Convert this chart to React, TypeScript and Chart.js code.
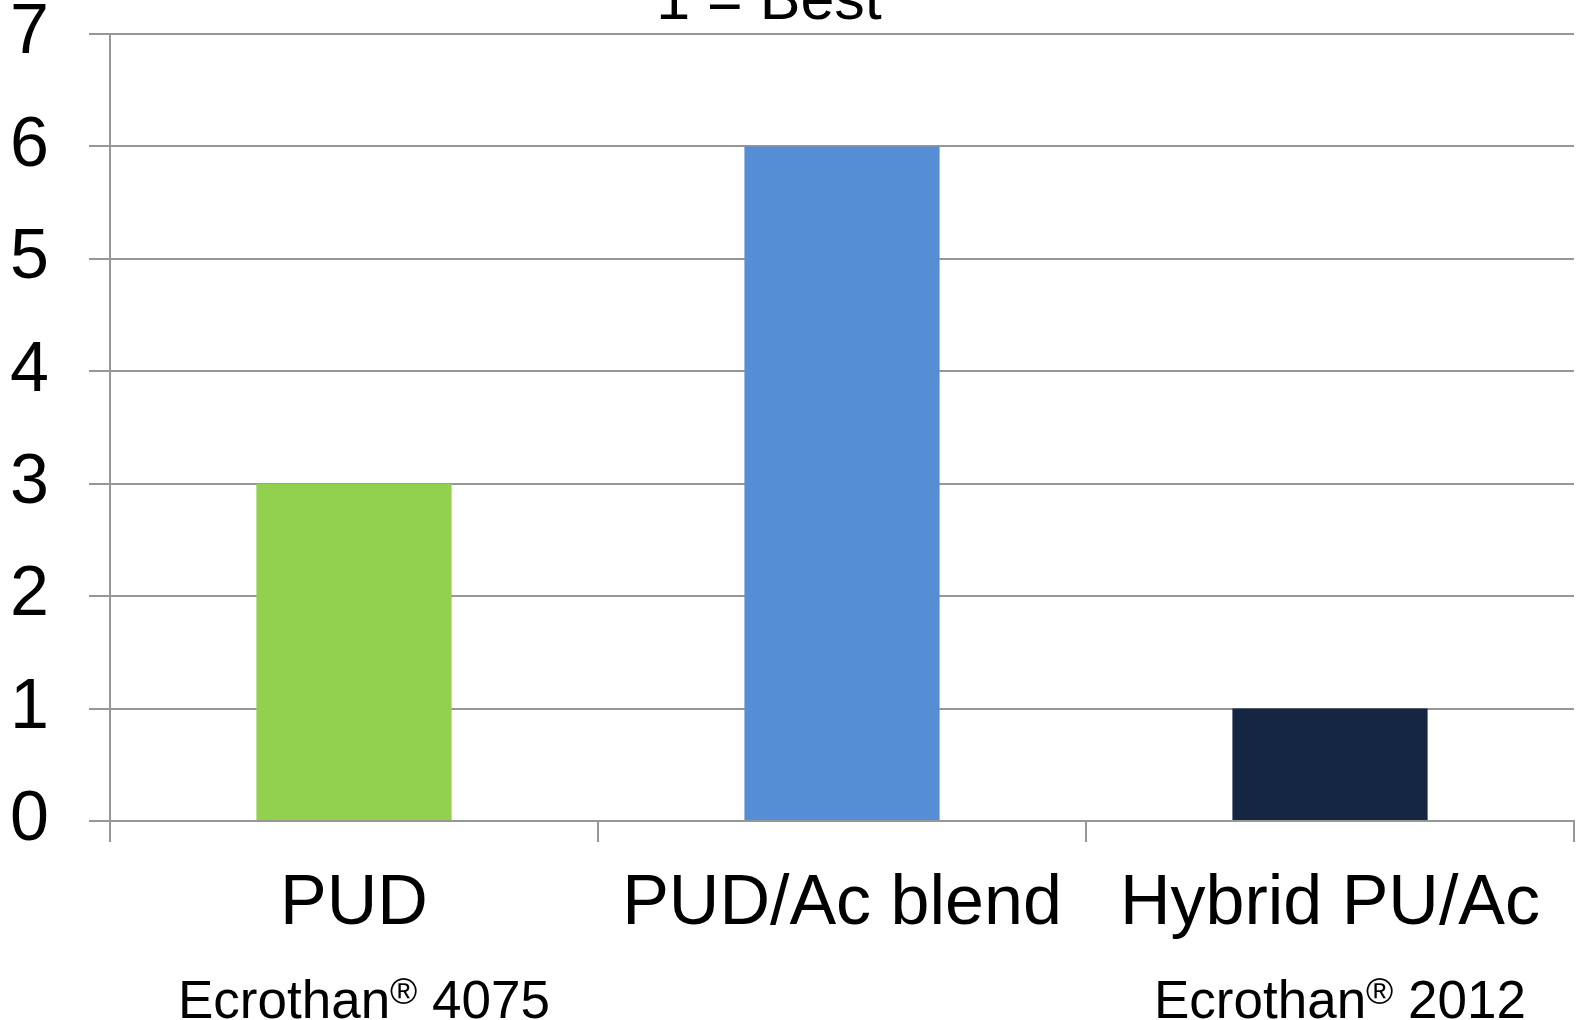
import React, { useEffect, useRef } from "react";
import { Chart, registerables } from "chart.js";

Chart.register(...registerables);

const categories = ["PUD", "PUD/Ac blend", "Hybrid PU/Ac"];
const values = [3, 6, 1];
const barColors = ["#92D050", "#558ED5", "#142641"];
const subLabels = ["Ecrothan® 4075", "", "Ecrothan® 2012"];
const titleText = "1 = Best";
const yMin = 0;
const yMax = 7;
const yStep = 1;

const FONT = "'Liberation Sans', Arial, sans-serif";
const GRID = "#979797";

const overlayPlugin = {
  id: "overlayText",
  afterDraw(chart: any) {
    const ctx = chart.ctx;
    const xs = chart.scales.x;
    ctx.save();
    ctx.fillStyle = "#000";
    // title (cut off at top as in reference)
    ctx.font = `61px ${FONT}`;
    ctx.textAlign = "center";
    ctx.textBaseline = "alphabetic";
    ctx.fillText(titleText, 769, 19);
    // sub labels with superscript ®
    subLabels.forEach((s, i) => {
      if (!s) return;
      const idx = s.indexOf("®");
      const a = idx >= 0 ? s.slice(0, idx) : s;
      const b = idx >= 0 ? s.slice(idx + 1) : "";
      ctx.font = `53px ${FONT}`;
      const wa = ctx.measureText(a).width;
      const wb = ctx.measureText(b).width;
      ctx.font = `37px ${FONT}`;
      const wr = idx >= 0 ? ctx.measureText("®").width : 0;
      const total = wa + wr + wb;
      const cx = xs.getPixelForValue(i) + 10;
      let x = cx - total / 2;
      const baseY = 1018;
      ctx.textAlign = "left";
      ctx.font = `53px ${FONT}`;
      ctx.fillText(a, x, baseY);
      x += wa;
      if (idx >= 0) {
        ctx.font = `37px ${FONT}`;
        ctx.fillText("®", x, baseY - 14);
        x += wr;
      }
      ctx.font = `53px ${FONT}`;
      ctx.fillText(b, x, baseY);
    });
    ctx.restore();
  },
};

export default function App() {
  const canvasRef = useRef<HTMLCanvasElement | null>(null);

  useEffect(() => {
    document.body.style.margin = "0";
    const canvas = canvasRef.current;
    if (!canvas) return;
    const chart = new Chart(canvas, {
      type: "bar",
      data: {
        labels: categories,
        datasets: [
          {
            data: values,
            backgroundColor: barColors,
            borderWidth: 0,
            barPercentage: 0.4,
            categoryPercentage: 1,
          },
        ],
      },
      options: {
        animation: false,
        responsive: true,
        maintainAspectRatio: false,
        layout: { padding: { top: 34, right: 3, left: 0, bottom: 0 } },
        plugins: {
          legend: { display: false },
          tooltip: { enabled: false },
          title: { display: false },
        },
        scales: {
          x: {
            type: "category",
            offset: true,
            grid: {
              display: true,
              offset: true,
              drawOnChartArea: false,
              drawTicks: true,
              tickLength: 21,
              color: GRID,
              tickColor: GRID,
              lineWidth: 2,
              tickWidth: 2,
            },
            border: { display: true, color: GRID, width: 2 },
            ticks: {
              color: "#000",
              font: { family: FONT, size: 70, lineHeight: 1.2 },
              padding: 21,
              maxRotation: 0,
              minRotation: 0,
              autoSkip: false,
            },
            afterFit(scale: any) {
              scale.height = 199;
              scale.paddingLeft = 0;
              scale.paddingRight = 0;
            },
          },
          y: {
            min: yMin,
            max: yMax,
            grid: {
              color: GRID,
              tickColor: GRID,
              lineWidth: 2,
              tickWidth: 2,
              drawTicks: true,
              tickLength: 21,
            },
            border: { display: true, color: GRID, width: 2 },
            ticks: {
              stepSize: yStep,
              color: "#000",
              font: { family: FONT, size: 70, lineHeight: 0.5 },
              padding: 40,
            },
            afterFit(scale: any) {
              scale.width = 110;
              scale.paddingTop = 0;
              scale.paddingBottom = 0;
            },
          },
        },
      },
      plugins: [overlayPlugin],
    });
    return () => chart.destroy();
  }, []);

  return (
    <div style={{ width: "1577px", height: "1020px", position: "relative" }}>
      <canvas ref={canvasRef} />
    </div>
  );
}
